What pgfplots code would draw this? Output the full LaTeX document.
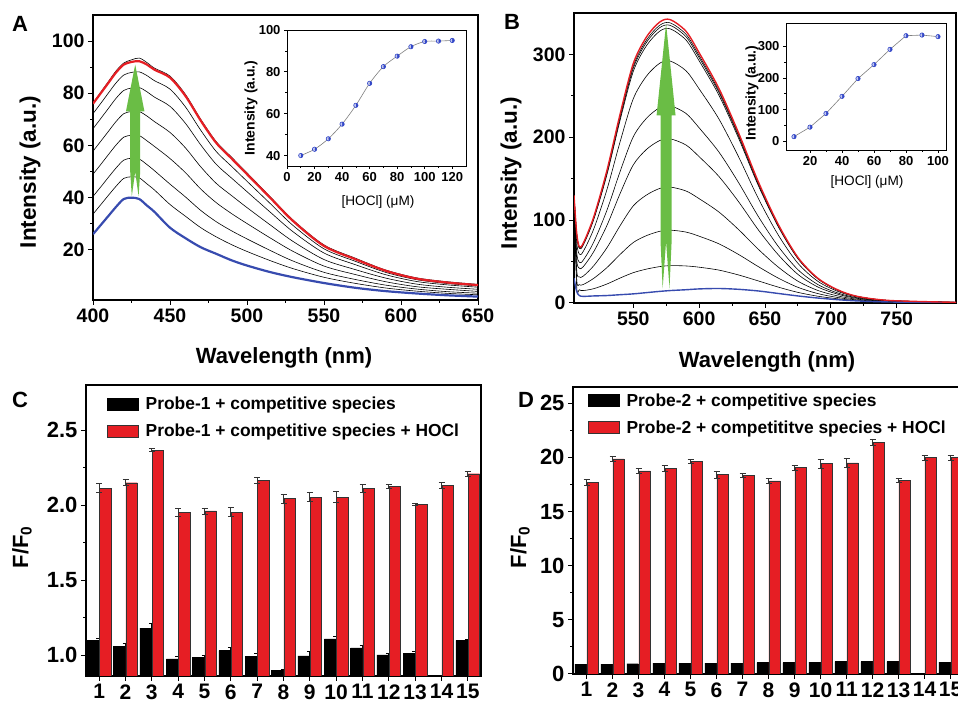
\documentclass[border=0pt]{standalone}
\usepackage{fontspec}
\setmainfont{Liberation Sans}
\usepackage{pgfplots}
\usepackage{pgfplotstable}
\pgfplotsset{compat=1.18}
\usetikzlibrary{plotmarks}

\definecolor{cred}{RGB}{230,30,36}
\definecolor{cblue}{RGB}{55,75,175}
\definecolor{agreen}{RGB}{106,189,69}
\definecolor{mblue}{RGB}{50,70,200}

\newcommand{\fs}[1]{\fontsize{#1}{#1}\selectfont\bfseries}

\pgfplotsset{
  panel/.style={scale only axis, anchor=south west, tick align=outside, tick pos=left,
    axis line style={line width=1.3pt}, major tick length=5pt, minor tick length=3pt,
    every tick/.style={line width=1pt, black},
    /pgf/number format/assume math mode=true, clip=true},
  inset/.style={panel, axis line style={line width=0.8pt}, major tick length=3pt,
    minor tick length=2pt, every tick/.style={line width=0.7pt, black},
    ticklabel style={font=\fs{13}}, axis background/.style={fill=white}},
}

% panel A spectra: blue = probe, k1..k7 = increasing HOCl, r = final
\pgfplotstableread{
lam  b    k1   k2   k3   k4   k5   k6   k7   r
400  26   33.7 40.5 49   57.8 66.4 72.2 76.3 76
405  29.5 37.3 44.1 52.7 61.6 70.3 76.1 80.4 80
410  33   40.9 47.8 56.5 65.4 74.2 80.1 84.5 84
415  36.5 44.4 51.4 60.2 69.2 78.1 84.0 88.6 88
420  39.5 47.4 54.4 63.2 72.2 81.1 87.0 91.6 91
425  40   48.0 55.1 63.9 73.0 82.0 88.0 92.8 92
430  39.5 47.6 54.8 63.8 73.0 82.2 88.2 93.5 92.3
435  37   45.3 52.7 61.8 71.3 80.6 86.8 91.8 91
440  34.5 42.9 50.3 59.6 69.1 78.5 84.8 89.6 89
450  28.5 37.4 45.2 55.0 65.0 75.0 81.6 86.6 86
460  24.5 32.9 40.3 49.6 59.1 68.5 74.8 79.6 79
470  21   28.5 35.1 43.3 51.8 60.2 65.8 70.0 69.5
480  18.5 25.0 30.8 38.1 45.5 52.8 57.7 61.5 61
490  16   22.0 27.3 33.9 40.8 47.5 52.0 55.5 55
500  14   19.4 24.2 30.1 36.2 42.3 46.3 49.5 49
515  11.5 15.9 19.8 24.6 29.6 34.5 37.8 40.4 40
530  9.5  12.8 15.7 19.4 23.2 26.9 29.3 31.4 31
550  7.3  9.5  11.4 13.8 16.3 18.8 20.4 21.9 21.5
570  5.5  7.2  8.7  10.6 12.5 14.4 15.7 16.9 16.5
590  4.2  5.4  6.5  7.8  9.2  10.5 11.4 12.3 12
610  3.3  4.2  5.0  5.9  6.9  7.9  8.6  9.3  9
630  2.6  3.35 4.0  4.9  5.7  6.6  7.1  7.8  7.5
650  2.1  2.8  3.4  4.1  4.9  5.7  6.2  6.8  6.5
}\dataA

% panel B spectra
\pgfplotstableread{
lam  b    k1   k2   k3    k4    k5    k6    k7    k8    k9    r
505  30   130  130  130   130   130   130   130   130   130   130
507  14   20.5 29.8 41.1  53.8  62.4  74.1  82.6  83.5  84.1  85
509  9    16   22.2 31.5  42    49.2  59    66    66.8  67.3  68
512  8    15   22.3 32.4  43.8  51.6  62.2  69.8  70.7  71.2  72
520  8.5  17.3 29.8 45    62    73.6  89.4  100.8 102   102.9 104
530  9    22.9 42.7 66.7  93.6  112   136.9 154.9 156.8 158.2 160
540  10   30.1 58.6 93.3  132.1 158.7 194.6 220.6 223.4 225.4 228
550  11   36.6 73   117.2 166.7 200.6 246.5 279.5 283.2 285.7 289
560  12.5 40.9 81.3 130.3 185.3 222.9 273.8 310.5 314.5 317.3 321
570  14   43.9 86.5 138.2 196   235.7 289.3 328   332.2 335.1 339
578  15   45.1 87.9 139.9 198.1 238   292   330.9 335.1 338.1 342
590  16   44.7 85.6 135.2 190.7 228.8 280.3 317.4 321.4 324.3 328
600  17   43.2 80.6 125.9 176.6 211.4 258.4 292.3 296   298.6 302
615  17.5 39.7 71.4 109.8 152.7 182.2 222.1 250.8 254   256.1 259
630  16.5 33.8 58.5 88.5  122.1 145.1 176.2 198.6 201   202.7 205
645  14.5 26.6 43.8 64.7  88.1  104.2 125.9 141.5 143.2 144.4 146
660  11.5 19.2 30.1 43.4  58.3  68.4  82.2  92.2  93.3  94    95
675  8.5  12.8 18.9 26.3  34.5  40.2  47.9  53.4  54    54.4  55
690  6    8.2  11.4 15.2  19.4  22.4  26.3  29.2  29.5  29.7  30
705  4    5.1  6.7  8.6   10.7  12.2  14.2  15.6  15.7  15.9  16
720  2.5  3.0  3.7  4.6   5.6   6.3   7.2   7.8   7.9   7.9   8
745  1.2  1.4  1.6  1.9   2.2   2.4   2.7   2.9   2.9   2.9   3
795  0.4  0.44 0.5  0.55  0.6   0.7   0.7   0.8   0.8   0.8   0.8
}\dataB

\begin{document}
\begin{tikzpicture}
\path[use as bounding box] (0pt,0pt) rectangle (958pt,703pt);
\clip (0pt,0pt) rectangle (958pt,703pt);

% ---------------- A ----------------
\begin{axis}[panel, at={(93pt,403pt)}, width=385pt, height=285pt,
  xmin=400, xmax=650, ymin=0.8, ymax=110,
  xtick={400,450,...,650}, ytick={20,40,...,100},
  minor x tick num=1, minor y tick num=1,
  ticklabel style={font=\fs{19.5}}]
\foreach \c in {k1,k2,k3,k4,k5,k6}{
  \addplot[black, line width=0.6pt, smooth] table[x=lam,y=\c] {\dataA};
}
\addplot[cblue, line width=2.2pt, smooth] table[x=lam,y=b] {\dataA};
\addplot[black, line width=0.6pt, smooth] table[x=lam,y=k7] {\dataA};
\addplot[cred, line width=2.2pt, smooth] table[x=lam,y=r] {\dataA};
\fill[agreen] (axis cs:427.4,91) -- (axis cs:433.4,73.1) -- (axis cs:430.65,73.1)
  -- (axis cs:430.65,50) -- (axis cs:429.6,40.5) -- (axis cs:427.4,50)
  -- (axis cs:425.2,40.5) -- (axis cs:424.15,50) -- (axis cs:424.15,73.1)
  -- (axis cs:421.4,73.1) -- cycle;
\end{axis}

\begin{axis}[inset, at={(287pt,537pt)}, width=179pt, height=136pt,
  xmin=0, xmax=130, ymin=35, ymax=100,
  xtick={0,20,...,120}, ytick={40,60,80,100},
  minor x tick num=1, minor y tick num=1]
\addplot[gray, line width=0.6pt, smooth, mark=halfcircle*, mark size=2.2pt,
  mark options={draw=mblue, fill=mblue, mark color=mblue!30, rotate=-90}]
  coordinates {(10,40)(20,43)(30,48)(40,55)(50,64)(60,74.5)(70,82.5)(80,87.5)
  (90,92)(100,94.5)(110,94.7)(120,95)};
\end{axis}

% ---------------- B ----------------
\begin{axis}[panel, at={(574pt,400pt)}, width=382pt, height=290pt,
  xmin=505, xmax=795, ymin=0, ymax=350,
  xtick={550,600,...,750}, ytick={0,100,200,300},
  minor x tick num=1, minor y tick num=1,
  ticklabel style={font=\fs{19.5}}]
\foreach \c in {k1,k2,k3,k4,k5,k6,k7,k8,k9}{
  \addplot[black, line width=0.6pt, smooth] table[x=lam,y=\c] {\dataB};
}
\addplot[cblue, line width=1.4pt, smooth] table[x=lam,y=b] {\dataB};
\addplot[cred, line width=1.4pt, smooth] table[x=lam,y=r] {\dataB};
\fill[agreen] (axis cs:574.9,337) -- (axis cs:582.1,226.5) -- (axis cs:579.1,226.5)
  -- (axis cs:579.1,74) -- (axis cs:577.5,17.7) -- (axis cs:574.9,74)
  -- (axis cs:572.3,17.7) -- (axis cs:570.7,74) -- (axis cs:570.7,226.5)
  -- (axis cs:567.7,226.5) -- cycle;
\end{axis}

\begin{axis}[inset, at={(786pt,553pt)}, width=160pt, height=127pt,
  xmin=5, xmax=105, ymin=-27, ymax=373,
  xtick={20,40,...,100}, ytick={0,100,200,300},
  minor x tick num=1, minor y tick num=1]
\addplot[gray, line width=0.6pt, mark=halfcircle*, mark size=2.2pt,
  mark options={draw=mblue, fill=mblue, mark color=mblue!30, rotate=-90}]
  coordinates {(10,15)(20,45)(30,88)(40,142)(50,198)(60,242)(70,290)(80,333)
  (90,335)(100,330)};
\end{axis}

% ---------------- C ----------------
\begin{axis}[panel, at={(86pt,27pt)}, width=395pt, height=291pt,
  xmin=0.5, xmax=15.5, ymin=0.862, ymax=2.8,
  xtick={1,...,15}, ytick={1.0,1.5,2.0,2.5}, minor y tick num=1,
  yticklabel style={font=\fs{22}, /pgf/number format/fixed,
    /pgf/number format/fixed zerofill, /pgf/number format/precision=1},
  xticklabel style={font=\fs{21}},
  legend style={at={(0.053,0.966)}, anchor=north west, draw=none, fill=none,
    font=\fs{17.4}, row sep=9pt, inner sep=0pt},
  legend cell align=left]
\addplot[ybar, bar width=0.44, bar shift=-0.23, fill=black, draw=black, forget plot,
  error bars/y dir=both, error bars/y explicit,
  error bars/error bar style={line width=0.7pt, black},
  error bars/error mark options={rotate=90, mark size=3pt, line width=0.7pt, black}]
  coordinates {(1,1.10)+-(0,0.01) (2,1.058)+-(0,0.02) (3,1.18)+-(0,0.035)
  (4,0.976)+-(0,0.02) (5,0.987)+-(0,0.015) (6,1.031)+-(0,0.02) (7,0.993)+-(0,0.02)
  (8,0.898)+-(0,0.005) (9,0.996)+-(0,0.03) (10,1.109)+-(0,0.015) (11,1.049)+-(0,0.02)
  (12,1.002)+-(0,0.008) (13,1.011)+-(0,0.015) (15,1.10)+-(0,0.008)};
\addplot[ybar, bar width=0.44, bar shift=0.23, fill=cred, draw=black!80, forget plot,
  error bars/y dir=both, error bars/y explicit,
  error bars/error bar style={line width=0.7pt, black!80},
  error bars/error mark options={rotate=90, mark size=3pt, line width=0.7pt, black!80}]
  coordinates {(1,2.112)+-(0,0.03) (2,2.149)+-(0,0.02) (3,2.365)+-(0,0.01)
  (4,1.952)+-(0,0.025) (5,1.961)+-(0,0.02) (6,1.952)+-(0,0.03) (7,2.163)+-(0,0.02)
  (8,2.043)+-(0,0.03) (9,2.054)+-(0,0.03) (10,2.054)+-(0,0.035) (11,2.112)+-(0,0.025)
  (12,2.125)+-(0,0.015) (13,2.005)+-(0,0.008) (14,2.132)+-(0,0.02) (15,2.209)+-(0,0.015)};
\addlegendimage{legend image code/.code={\draw[fill=black,draw=black,line width=0.8pt] (0pt,-6pt) rectangle (31pt,6pt); \path (36pt,0pt);}}
\addlegendentry{Probe-1 + competitive species}
\addlegendimage{legend image code/.code={\draw[fill=cred,draw=black!80,line width=0.8pt] (0pt,-6pt) rectangle (31pt,6pt); \path (36pt,0pt);}}
\addlegendentry{Probe-1 + competitive species + HOCl}
\end{axis}

% ---------------- D ----------------
\begin{axis}[panel, at={(573pt,29pt)}, width=400pt, height=287pt,
  xmin=0.48, xmax=15.86, ymin=0, ymax=26.5,
  xtick={1,...,15}, ytick={0,5,...,25}, minor y tick num=1,
  yticklabel style={font=\fs{22}}, xticklabel style={font=\fs{21}},
  legend style={at={(0.037,0.985)}, anchor=north west, draw=none, fill=none,
    font=\fs{17.4}, row sep=9pt, inner sep=0pt},
  legend cell align=left]
\addplot[ybar, bar width=0.44, bar shift=-0.23, fill=black, draw=black, forget plot]
  coordinates {(1,0.9) (2,0.9) (3,0.95) (4,1.0) (5,1.0) (6,1.0) (7,1.0) (8,1.05)
  (9,1.05) (10,1.1) (11,1.15) (12,1.15) (13,1.15) (15,1.1)};
\addplot[ybar, bar width=0.44, bar shift=0.23, fill=cred, draw=black!80, forget plot,
  error bars/y dir=both, error bars/y explicit,
  error bars/error bar style={line width=0.7pt, black!80},
  error bars/error mark options={rotate=90, mark size=3pt, line width=0.7pt, black!80}]
  coordinates {(1,17.7)+-(0,0.25) (2,19.86)+-(0,0.2) (3,18.75)+-(0,0.2)
  (4,19.0)+-(0,0.25) (5,19.64)+-(0,0.2) (6,18.41)+-(0,0.3) (7,18.35)+-(0,0.2)
  (8,17.83)+-(0,0.2) (9,19.06)+-(0,0.25) (10,19.43)+-(0,0.4) (11,19.49)+-(0,0.4)
  (12,21.4)+-(0,0.3) (13,17.89)+-(0,0.2) (14,19.98)+-(0,0.25) (15,19.98)+-(0,0.25)};
\addlegendimage{legend image code/.code={\draw[fill=black,draw=black,line width=0.8pt] (0pt,-6pt) rectangle (31pt,6pt); \path (36pt,0pt);}}
\addlegendentry{Probe-2 + competitive species}
\addlegendimage{legend image code/.code={\draw[fill=cred,draw=black!80,line width=0.8pt] (0pt,-6pt) rectangle (31pt,6pt); \path (36pt,0pt);}}
\addlegendentry{Probe-2 + competititve species + HOCl}
\end{axis}

% ---------------- labels ----------------
\node[font=\fs{22}] at (20pt,679pt) {A};
\node[font=\fs{22}] at (512pt,681pt) {B};
\node[font=\fs{22}] at (20pt,303pt) {C};
\node[font=\fs{22}] at (526pt,303pt) {D};
\node[font=\fs{22.5}, rotate=90] at (30pt,531pt) {Intensity (a.u.)};
\node[font=\fs{22}] at (284pt,345pt) {Wavelength (nm)};
\node[font=\fs{22.5}, rotate=90] at (511pt,530pt) {Intensity (a.u.)};
\node[font=\fs{22}] at (767pt,341pt) {Wavelength (nm)};
\node[font=\fs{22}, rotate=90] at (22pt,156pt) {F/F\textsubscript{0}};
\node[font=\fs{22}, rotate=90] at (520pt,156pt) {F/F\textsubscript{0}};
\node[font=\fs{14}, rotate=90] at (251pt,595pt) {Intensity (a.u.)};
\node[font=\fontsize{13.6}{14}\selectfont] at (378pt,501pt) {[HOCl] (μM)};
\node[font=\fs{14}, rotate=90] at (752pt,610pt) {Intensity (a.u.)};
\node[font=\fontsize{13.6}{14}\selectfont] at (867pt,521pt) {[HOCl] (μM)};
\end{tikzpicture}
\end{document}
